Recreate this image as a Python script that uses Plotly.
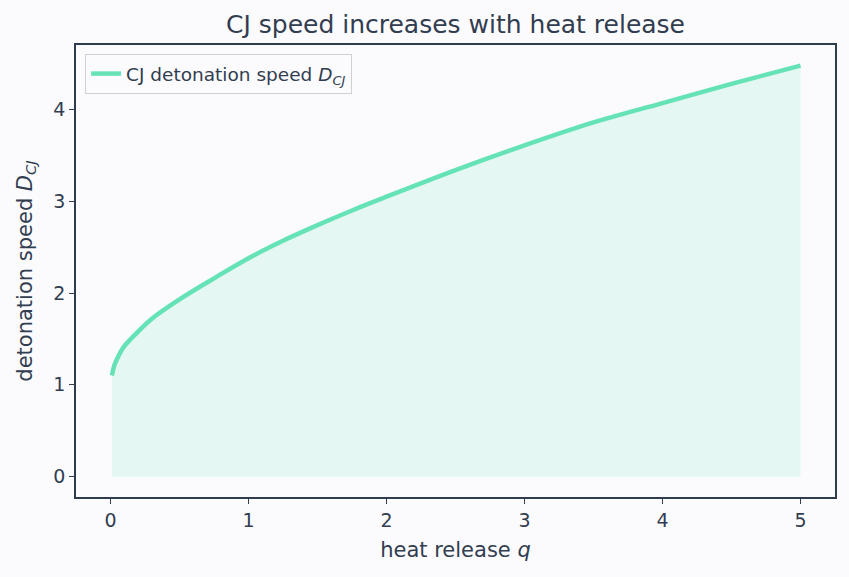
import plotly.graph_objects as go

q_values = [0.01, 0.03, 0.06, 0.1, 0.2, 0.3, 0.5, 0.75, 1.0, 1.25, 1.5, 1.75,
            2.0, 2.5, 3.0, 3.5, 4.0, 4.5, 5.0]
d_cj = [1.10, 1.22, 1.32, 1.42, 1.58, 1.72, 1.93, 2.16, 2.38, 2.57, 2.74, 2.90,
        3.05, 3.34, 3.61, 3.86, 4.07, 4.28, 4.48]

x_ticks = [0, 1, 2, 3, 4, 5]
y_ticks = [0, 1, 2, 3, 4]

LINE = "#66e3b6"
FILL = "rgba(102,227,182,0.15)"
TEXT = "#323d4f"
BG = "#fbfbfe"
FONT = "DejaVu Sans"

fig = go.Figure()
fig.add_trace(go.Scatter(
    x=q_values, y=d_cj, mode="lines", fill="tozeroy", fillcolor=FILL,
    line=dict(width=0.6, color="rgba(102,227,182,0.25)", shape="spline"),
    showlegend=False, hoverinfo="skip"))
fig.add_trace(go.Scatter(
    x=q_values, y=d_cj, mode="lines",
    line=dict(width=4.5, color=LINE, shape="spline"),
    name="CJ detonation speed <i>D</i><sub><i>CJ</i></sub>"))

axis_common = dict(
    showline=True, linecolor="#2e3b4e", linewidth=1.5, mirror=True,
    ticks="outside", ticklen=5, tickwidth=1, tickcolor=TEXT,
    showgrid=False, zeroline=False,
    tickfont=dict(family=FONT, size=19, color=TEXT),
)

fig.update_layout(
    width=849, height=577,
    paper_bgcolor=BG, plot_bgcolor=BG,
    margin=dict(l=76, r=14, t=45, b=80),
    title=dict(text="CJ speed increases with heat release",
               x=(76 + 835) / 2 / 849, xanchor="center", y=0.958, yanchor="middle",
               font=dict(family=FONT, size=25, color=TEXT)),
    font=dict(family=FONT, color=TEXT),
    xaxis=dict(range=[-0.25, 5.25], tickvals=x_ticks,
               title=dict(text="heat release <i>q</i>", standoff=13,
                          font=dict(family=FONT, size=21, color=TEXT)),
               **axis_common),
    yaxis=dict(range=[-0.224, 4.704], tickvals=y_ticks,
               title=dict(text="detonation speed <i>D</i><sub><i>CJ</i></sub>", standoff=15,
                          font=dict(family=FONT, size=21, color=TEXT)),
               **axis_common),
    legend=dict(x=0.012, y=0.98, xanchor="left", yanchor="top",
                bgcolor="rgba(251,251,254,0.8)", bordercolor="#d0d0d0", borderwidth=1,
                font=dict(family=FONT, size=18.5, color=TEXT)),
)

fig.write_html("out.html")
